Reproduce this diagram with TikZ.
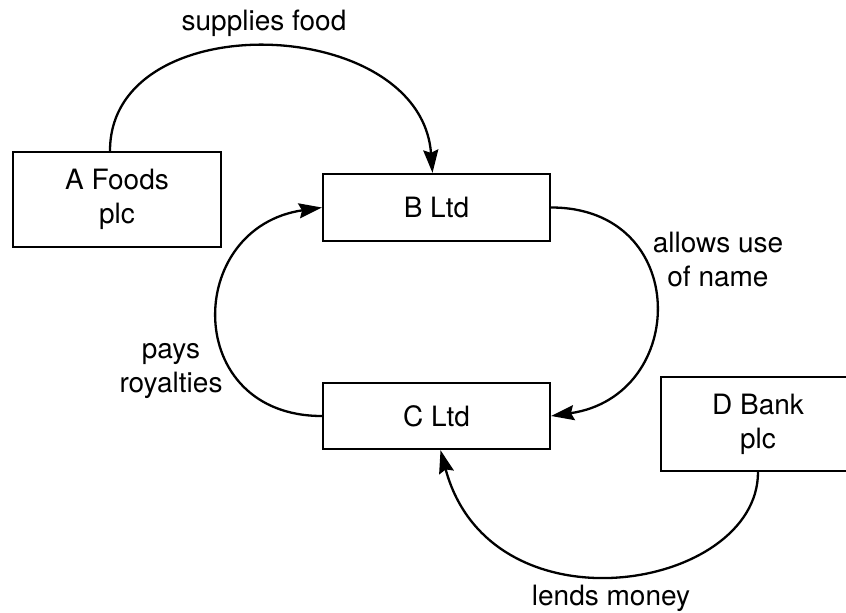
\documentclass[tikz,border=0pt]{standalone}
\usepackage{fontspec}
\setmainfont{TeX Gyre Heros}
\usetikzlibrary{arrows.meta}

\tikzset{
  firm/.style={draw, line width=2.3pt, inner sep=0pt, align=center},
  flow/.style={line width=2.3pt, -{Stealth[length=23pt,width=15pt,inset=3pt]}},
  tag/.style={align=center, inner sep=0pt}
}

\begin{document}
\begin{tikzpicture}[x=1pt,y=-1pt,font=\fontsize{28}{34}\selectfont]
\useasboundingbox (0,0) rectangle (846,613);

\node[firm,minimum width=208pt,minimum height=95pt] (A) at (117,199.5) {A Foods\\plc};
\node[firm,minimum width=227pt,minimum height=67pt] (B) at (436.5,207.5) {B Ltd};
\node[firm,minimum width=227pt,minimum height=66pt] (C) at (436.5,416) {C Ltd};
\node[firm,minimum width=194pt,minimum height=94pt] (D) at (758,424) {D Bank\\plc};

\node[tag] (supplies) at (264,23)  {supplies food};
\node[tag] (allows)   at (718,260) {allows use\\of name};
\node[tag] (pays)     at (171,371) {pays\\royalties};
\node[tag] (lends)    at (611,598) {lends money};

% flows between the firms
\draw[flow] ([xshift=-7pt]A.north) .. controls +(0,-147) and +(-12,-159) .. ([xshift=-4pt]B.north);
\draw[flow] (B.east) .. controls +(140,0) and +(138,-20) .. (C.east);
\draw[flow] (C.west) .. controls +(-140,0) and +(-138,20) .. (B.west);
\draw[flow] (D.south) .. controls +(0,118) and +(50,186) .. ([xshift=4pt]C.south);
\end{tikzpicture}
\end{document}
